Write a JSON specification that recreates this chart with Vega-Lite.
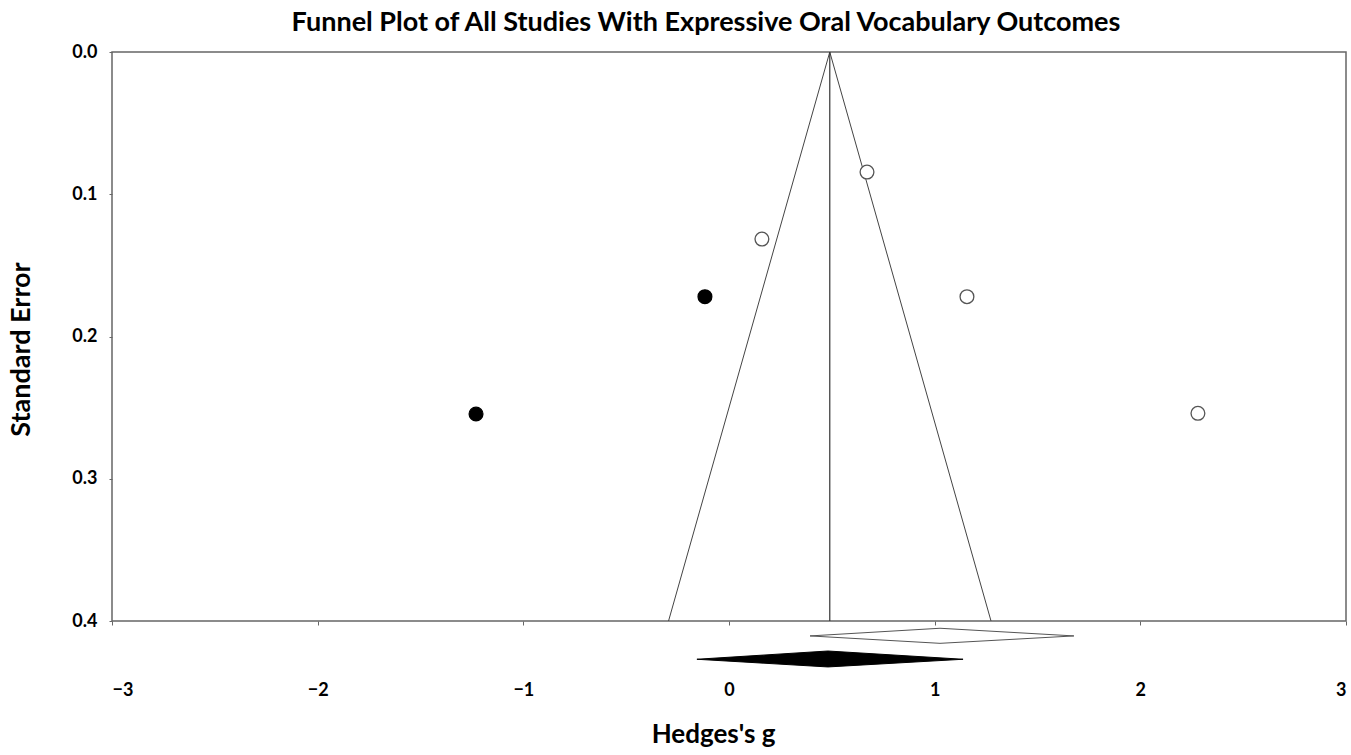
{
  "$schema": "https://vega.github.io/schema/vega-lite/v6.json",
  "width": 1234,
  "height": 569,
  "autosize": {"type": "none"},
  "padding": {"left": 112, "top": 52, "right": 5, "bottom": 134},
  "background": "white",
  "title": {
    "text": "Funnel Plot of All Studies With Expressive Oral Vocabulary Outcomes",
    "font": "Lato",
    "fontSize": 27,
    "fontWeight": "bold",
    "color": "black",
    "anchor": "middle",
    "dx": -23,
    "offset": 6
  },
  "config": {
    "view": {"stroke": "#666666", "strokeWidth": 1.5},
    "axis": {
      "labelFont": "Lato",
      "labelFontWeight": "bold",
      "labelFontSize": 18,
      "labelColor": "black",
      "titleFont": "Lato",
      "titleFontWeight": "bold",
      "titleColor": "black",
      "grid": false,
      "domainColor": "#666666",
      "domainWidth": 1.5,
      "tickColor": "#666666",
      "tickWidth": 1
    }
  },
  "datasets": {
    "studies": [
      {"g": 0.671, "se": 0.0844, "type": "observed"},
      {"g": 0.160, "se": 0.1315, "type": "observed"},
      {"g": 1.157, "se": 0.172, "type": "observed"},
      {"g": 2.28, "se": 0.254, "type": "observed"},
      {"g": -0.117, "se": 0.172, "type": "imputed"},
      {"g": -1.23, "se": 0.2545, "type": "imputed"}
    ],
    "funnel": [
      {"i": 1, "g": -0.294, "se": 0.4},
      {"i": 2, "g": 0.49, "se": 0.0},
      {"i": 3, "g": 1.274, "se": 0.4}
    ],
    "centre": [
      {"g": 0.49, "se0": 0.0, "se1": 0.4}
    ],
    "observedDiamond": [
      {"g": 0.394, "top": 0.4105, "bottom": 0.4105},
      {"g": 1.026, "top": 0.4051, "bottom": 0.4157},
      {"g": 1.677, "top": 0.4105, "bottom": 0.4105}
    ],
    "adjustedDiamond": [
      {"g": -0.156, "top": 0.4269, "bottom": 0.4269},
      {"g": 0.481, "top": 0.4211, "bottom": 0.4323},
      {"g": 1.138, "top": 0.4269, "bottom": 0.4269}
    ]
  },
  "encoding": {
    "x": {
      "field": "g",
      "type": "quantitative",
      "scale": {"domain": [-3, 3], "nice": false, "zero": false},
      "axis": {
        "values": [-3, -2, -1, 0, 1, 2, 3],
        "title": "Hedges's g",
        "titleFontSize": 26,
        "titlePadding": 22,
        "titleX": 601,
        "tickSize": 4,
        "labelPadding": 56,
        "domain": false
      }
    }
  },
  "layer": [
    {
      "data": {"name": "funnel"},
      "mark": {"type": "line", "color": "#444444", "strokeWidth": 1},
      "encoding": {
        "y": {
          "field": "se",
          "type": "quantitative",
          "scale": {"domain": [0, 0.4], "reverse": true, "nice": false, "zero": false},
          "axis": {
            "values": [0, 0.1, 0.2, 0.3, 0.4],
            "format": ".1f",
            "title": "Standard Error",
            "titleFontSize": 27,
            "titlePadding": 36,
            "titleY": 297,
            "tickSize": 3,
            "labelPadding": 12,
            "domain": false
          }
        },
        "order": {"field": "i", "type": "quantitative"}
      }
    },
    {
      "data": {"name": "centre"},
      "mark": {"type": "rule", "color": "#333333", "strokeWidth": 1.2},
      "encoding": {
        "y": {"field": "se0", "type": "quantitative"},
        "y2": {"field": "se1"}
      }
    },
    {
      "data": {"name": "observedDiamond"},
      "mark": {"type": "area", "orient": "vertical", "fill": "white", "stroke": "#555555", "strokeWidth": 1, "clip": false},
      "encoding": {
        "y": {"field": "top", "type": "quantitative"},
        "y2": {"field": "bottom"}
      }
    },
    {
      "data": {"name": "adjustedDiamond"},
      "mark": {"type": "area", "orient": "vertical", "fill": "black", "stroke": "black", "strokeWidth": 1, "clip": false},
      "encoding": {
        "y": {"field": "top", "type": "quantitative"},
        "y2": {"field": "bottom"}
      }
    },
    {
      "data": {"name": "studies"},
      "mark": {"type": "point", "shape": "circle", "size": 190, "strokeWidth": 1.3, "opacity": 1, "filled": false},
      "encoding": {
        "y": {"field": "se", "type": "quantitative"},
        "fill": {
          "field": "type",
          "type": "nominal",
          "scale": {"domain": ["observed", "imputed"], "range": ["white", "black"]},
          "legend": null
        },
        "stroke": {
          "field": "type",
          "type": "nominal",
          "scale": {"domain": ["observed", "imputed"], "range": ["#555555", "black"]},
          "legend": null
        }
      }
    }
  ]
}
